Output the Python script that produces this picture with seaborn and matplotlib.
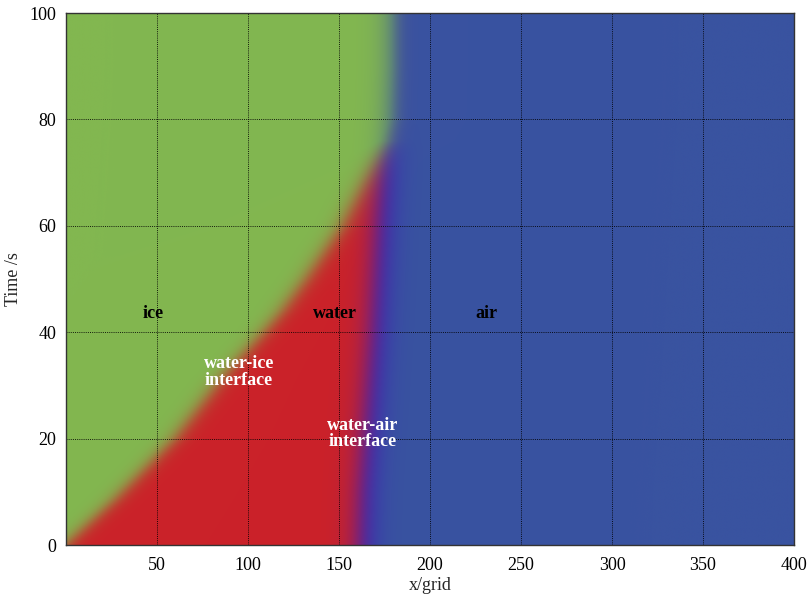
import numpy as np
import matplotlib
matplotlib.use("Agg")
import matplotlib.pyplot as plt
import seaborn as sns

# ---- data ----
# water-ice interface position (x/grid) vs time (s)
ice_t = [0, 8.5, 20, 27, 31, 40, 44, 50, 60, 68, 72, 76, 80, 90, 100]
ice_x = [0, 27, 60, 76, 85, 109, 119, 132, 152, 164, 170, 176, 178, 179, 179]
# water-air interface position (x/grid) vs time (s)
air_t = [0, 10, 20, 40, 60, 70, 80, 90, 100]
air_x = [164, 165, 167, 171, 174, 176, 178, 179, 179]

x_ticks = [50, 100, 150, 200, 250, 300, 350, 400]
y_ticks = [0, 20, 40, 60, 80, 100]

labels_text = ["ice", "water", "air"]
labels_x = [48, 148, 231]
labels_t = [43.5, 43.5, 43.5]

iface_text = ["water-ice\ninterface", "water-air\ninterface"]
iface_x = [95, 163]
iface_t = [32.5, 21]

col_ice = np.array([130, 183, 80]) / 255
col_water = np.array([203, 34, 41]) / 255
col_air = np.array([57, 83, 160]) / 255
col_mix = np.array([92, 42, 145]) / 255

# ---- build field ----
sns.set_theme(style="white")
plt.rcParams["font.family"] = ["Liberation Serif", "DejaVu Serif"]

xs = np.linspace(0, 400, 1201)
ts = np.linspace(0, 100, 501)
X, T = np.meshgrid(xs, ts)
xi = np.interp(ts, ice_t, ice_x)[:, None]
xa = np.interp(ts, air_t, air_x)[:, None]
xi = np.minimum(xi, xa)

def sig(z):
    return 1.0 / (1.0 + np.exp(-z))

fi = sig((xi - X) / 3.4)
fa = sig((X - xa) / 4.3)
fw = np.clip(1 - fi - fa, 0, None)
s = fi + fw + fa
fi, fw, fa = fi / s, fw / s, fa / s
img = (fi[..., None] * col_ice + fw[..., None] * col_water + fa[..., None] * col_air
       + (4 * fw * fa)[..., None] * (col_mix - (col_water + col_air) / 2))
img = np.clip(img, 0, 1)

fig = plt.figure(figsize=(8.12, 5.99), dpi=100)
ax = fig.add_axes([66 / 812, 1 - 545 / 599, (794 - 66) / 812, (545 - 13) / 599])
ax.imshow(img, origin="lower", extent=[0, 400, 0, 100], aspect="auto",
          interpolation="bilinear")
ax.set_xlim(0, 400)
ax.set_ylim(0, 100)
ax.set_xticks(x_ticks)
ax.set_yticks(y_ticks)
ax.tick_params(axis="both", length=0, labelsize=13, colors="black")
ax.tick_params(axis="x", pad=9)
ax.tick_params(axis="y", pad=7)
ax.grid(True, color="black", linestyle=(0, (1, 1.2)), linewidth=0.7, alpha=0.85)
for sp in ax.spines.values():
    sp.set_color("#333333")
    sp.set_linewidth(1.0)
ax.set_xlabel("x/grid", fontsize=13, labelpad=2)
ax.set_ylabel("Time /s", fontsize=13, labelpad=5)

for txt, x, t in zip(labels_text, labels_x, labels_t):
    ax.text(x, t, txt, fontsize=13, fontweight="bold", color="black",
            ha="center", va="center")
for txt, x, t in zip(iface_text, iface_x, iface_t):
    ax.text(x, t, txt, fontsize=13, fontweight="bold", color="white",
            ha="center", va="center", linespacing=0.95)

fig.savefig("out.png", dpi=100)
